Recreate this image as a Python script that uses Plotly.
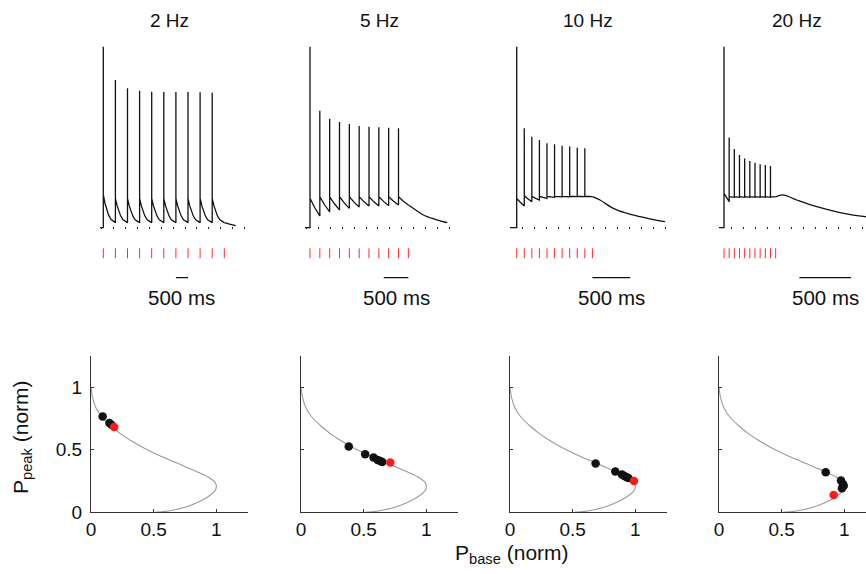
import plotly.graph_objects as go

W, H = 866, 574
FONT = "Liberation Sans, Arial, Helvetica, sans-serif"

# ---------------------------------------------------------------- data
freqs = [2, 5, 10, 20]
titles = ["2 Hz", "5 Hz", "10 Hz", "20 Hz"]
n_stim = 11

# membrane response, normalised (0 = rest, 1 = first spike peak)
pre_ms = [-136, -102, -88, -48]

peaks_2hz = [1.0, 0.816, 0.770, 0.757, 0.751, 0.750, 0.750, 0.750, 0.748, 0.746]
posts_2hz = [0.181, 0.162, 0.162, 0.162, 0.162, 0.162, 0.162, 0.162, 0.162, 0.162]
troughs_2hz = [0.0, 0.028, 0.028, 0.028, 0.028, 0.028, 0.028, 0.028, 0.028, 0.028, 0.028]
decay_f_2hz = [0, 0.14, 0.29, 0.43, 0.63, 0.86, 1.0]
decay_v_2hz = [0, 0.30, 0.54, 0.72, 0.88, 0.96, 1.0]
tail_t_2hz = [5250, 5470]
tail_v_2hz = [0.018, 0.011]

peaks_5hz = [1.0, 0.646, 0.602, 0.584, 0.573, 0.562, 0.558, 0.555, 0.552, 0.549]
posts_5hz = [0.162, 0.171, 0.171, 0.171, 0.171, 0.171, 0.171, 0.171, 0.171, 0.171]
troughs_5hz = [0.0, 0.065, 0.088, 0.098, 0.107, 0.114, 0.120, 0.120, 0.122, 0.125, 0.125]
decay_f_5hz = [0, 0.5, 1.0]
decay_v_5hz = [0, 0.55, 1.0]
tail_t_5hz = [2150, 2305, 2450, 2577, 2792]
tail_v_5hz = [0.098, 0.070, 0.055, 0.043, 0.028]

peaks_10hz = [1.0, 0.549, 0.503, 0.485, 0.466, 0.461, 0.453, 0.448, 0.442, 0.439]
posts_10hz = [0.162, 0.177, 0.173, 0.173, 0.173, 0.173, 0.173, 0.173, 0.173, 0.173]
troughs_10hz = [0.0, 0.120, 0.144, 0.153, 0.162, 0.168, 0.170, 0.171, 0.172, 0.172, 0.172]
decay_f_10hz = [0, 0.5, 1.0]
decay_v_10hz = [0, 0.55, 1.0]
tail_t_10hz = [1100, 1276, 1453, 1629, 1871, 1960]
tail_v_10hz = [0.153, 0.107, 0.080, 0.061, 0.039, 0.034]

peaks_20hz = [1.0, 0.499, 0.435, 0.402, 0.383, 0.368, 0.359, 0.350, 0.346, 0.341]
posts_20hz = [0.190, 0.171, 0.171, 0.171, 0.171, 0.171, 0.171, 0.171, 0.171, 0.171]
troughs_20hz = [0.0, 0.144, 0.168, 0.168, 0.168, 0.168, 0.168, 0.168, 0.168, 0.168, 0.170]
decay_f_20hz = [0, 1.0]
decay_v_20hz = [0, 1.0]
tail_t_20hz = [570, 704, 898, 1091, 1252, 1369, 1450]
tail_v_20hz = [0.181, 0.153, 0.116, 0.088, 0.070, 0.061, 0.057]

# 500 ms scale bar start (ms)
bar_start = [3000, 1500, 1000, 730]
bar_len = 500

# phase-plane curve (P_base, P_peak)
curve_x = [0.0, 0.012, 0.040, 0.090, 0.160, 0.240, 0.320, 0.410, 0.510, 0.600, 0.700,
           0.790, 0.870, 0.940, 0.985, 1.000, 0.990, 0.955, 0.900, 0.830, 0.750, 0.660,
           0.580, 0.510]
curve_y = [1.0, 0.920, 0.835, 0.758, 0.690, 0.625, 0.572, 0.521, 0.471, 0.430, 0.388,
           0.349, 0.314, 0.279, 0.245, 0.210, 0.175, 0.140, 0.105, 0.070, 0.040, 0.018,
           0.005, 0.0]

# trajectory points (black) and final point (red)
pb_2hz = [0.093, 0.147, 0.163]
pp_2hz = [0.767, 0.714, 0.700]
end_2hz = (0.185, 0.682)

pb_5hz = [0.381, 0.512, 0.579, 0.611, 0.632, 0.648]
pp_5hz = [0.526, 0.465, 0.438, 0.419, 0.411, 0.403]
end_5hz = (0.712, 0.398)

pb_10hz = [0.683, 0.840, 0.893, 0.912, 0.928, 0.944]
pp_10hz = [0.390, 0.326, 0.302, 0.291, 0.283, 0.275]
end_10hz = (0.989, 0.251)

pb_20hz = [0.851, 0.973, 0.989, 0.995, 0.981]
pp_20hz = [0.321, 0.254, 0.227, 0.213, 0.192]
end_20hz = (0.915, 0.139)

tick_vals = [0, 0.5, 1]
tick_text = ["0", "0.5", "1"]

panels = [
    (peaks_2hz, posts_2hz, troughs_2hz, decay_f_2hz, decay_v_2hz, tail_t_2hz, tail_v_2hz,
     pb_2hz, pp_2hz, end_2hz),
    (peaks_5hz, posts_5hz, troughs_5hz, decay_f_5hz, decay_v_5hz, tail_t_5hz, tail_v_5hz,
     pb_5hz, pp_5hz, end_5hz),
    (peaks_10hz, posts_10hz, troughs_10hz, decay_f_10hz, decay_v_10hz, tail_t_10hz, tail_v_10hz,
     pb_10hz, pp_10hz, end_10hz),
    (peaks_20hz, posts_20hz, troughs_20hz, decay_f_20hz, decay_v_20hz, tail_t_20hz, tail_v_20hz,
     pb_20hz, pp_20hz, end_20hz),
]

# ---------------------------------------------------------------- layout geometry (pixels)
panel_left = [91, 301, 510, 719]
panel_w = 156.7
onset_px = [103.3, 310.0, 516.7, 724.0]
px_per_ms = [0.0242, 0.04917, 0.0757, 0.1033]
first_dot_px = [101.7, 306.5, 510.4, 719.8]
dot_step_px = 11.9
rest_px = 227.7
trace_scale_px = 181.0
top_band = (35, 315)
bot_band = (356.0, 512.3)


def px_x(p):
    return p / W


def px_y(p):
    return 1 - p / H


def v_at(py):
    return (rest_px - py) / trace_scale_px


def build_trace(freq, pre, peaks, posts, troughs, dec_f, dec_v):
    isi = 1000.0 / freq
    t = [pre, 0.0]
    v = [0.0, troughs[0]]
    for i in range(len(peaks)):
        ti = i * isi
        t += [ti, ti]
        v += [peaks[i], posts[i]]
        for f, p in zip(dec_f[1:], dec_v[1:]):
            t.append(ti + f * isi)
            v.append(posts[i] + p * (troughs[i + 1] - posts[i]))
    return t, v


fig = go.Figure()
layout = {}
annotations = []

for k in range(4):
    (peaks, posts, troughs, dec_f, dec_v, tail_t, tail_v, pb, pp, end) = panels[k]
    freq = freqs[k]
    isi = 1000.0 / freq
    L = panel_left[k]
    R = min(L + panel_w, W)

    # ---------------- top: voltage trace
    xt, yt = f"x{k + 1}", f"y{k + 1}"
    x_lo = (L - onset_px[k]) / px_per_ms[k]
    x_hi = (R - onset_px[k]) / px_per_ms[k]
    y_lo = v_at(top_band[1])
    y_hi = v_at(top_band[0])

    t, v = build_trace(freq, pre_ms[k], peaks, posts, troughs, dec_f, dec_v)
    fig.add_trace(go.Scatter(x=t, y=v, mode="lines", xaxis=xt, yaxis=yt,
                             line=dict(color="#111111", width=1.3),
                             hoverinfo="skip", showlegend=False))
    fig.add_trace(go.Scatter(x=[len(peaks) * isi] + tail_t, y=[troughs[-1]] + tail_v,
                             mode="lines", xaxis=xt, yaxis=yt,
                             line=dict(color="#111111", width=1.3, shape="spline"),
                             hoverinfo="skip", showlegend=False))

    # stimulus ticks
    sx, sy = [], []
    for j in range(n_stim):
        ts = j * isi
        sx += [ts, ts, None]
        sy += [v_at(248.3), v_at(258.3), None]
    fig.add_trace(go.Scatter(x=sx, y=sy, mode="lines", xaxis=xt, yaxis=yt,
                             line=dict(color="#ff2a2a", width=1),
                             hoverinfo="skip", showlegend=False))

    # scale bar
    fig.add_trace(go.Scatter(x=[bar_start[k], bar_start[k] + bar_len],
                             y=[v_at(277.7), v_at(277.7)], mode="lines",
                             xaxis=xt, yaxis=yt,
                             line=dict(color="#111111", width=1.3),
                             hoverinfo="skip", showlegend=False))
    annotations.append(dict(x=bar_start[k] + bar_len / 2, y=v_at(297), xref=xt, yref=yt,
                            text="500 ms", showarrow=False,
                            font=dict(family=FONT, size=20.5, color="#111111"),
                            xanchor="center", yanchor="middle"))
    annotations.append(dict(x=px_x(L + panel_w / 2), y=px_y(20), xref="paper", yref="paper",
                            text=titles[k], showarrow=False,
                            font=dict(family=FONT, size=19, color="#111111"),
                            xanchor="center", yanchor="middle"))

    sfx = "" if k == 0 else str(k + 1)
    layout["xaxis" + sfx] = dict(
        domain=[px_x(L), px_x(R)], range=[x_lo, x_hi], anchor="free",
        position=px_y(rest_px + 1.5), automargin=False,
        showline=False, showgrid=False, zeroline=False, showticklabels=False,
        ticks="inside", ticklen=2, tickwidth=1, tickcolor="#222222",
        tickmode="linear", tick0=(first_dot_px[k] - onset_px[k]) / px_per_ms[k],
        dtick=dot_step_px / px_per_ms[k])
    layout["yaxis" + sfx] = dict(
        domain=[px_y(top_band[1]), px_y(top_band[0])], range=[y_lo, y_hi],
        anchor=xt, visible=False, automargin=False)

    # ---------------- bottom: phase plane
    xb, yb = f"x{k + 5}", f"y{k + 5}"
    unit_px = panel_w / 1.25
    fig.add_trace(go.Scatter(x=curve_x, y=curve_y, mode="lines", xaxis=xb, yaxis=yb,
                             line=dict(color="#9a9a9a", width=1.1, shape="spline",
                                       smoothing=0.8),
                             hoverinfo="skip", showlegend=False))
    fig.add_trace(go.Scatter(x=pb, y=pp, mode="markers", xaxis=xb, yaxis=yb,
                             marker=dict(color="#111111", size=8.5, line=dict(width=0)),
                             hoverinfo="skip", showlegend=False))
    fig.add_trace(go.Scatter(x=[end[0]], y=[end[1]], mode="markers", xaxis=xb, yaxis=yb,
                             marker=dict(color="#ff1a1a", size=8.5, line=dict(width=0)),
                             hoverinfo="skip", showlegend=False))

    bsfx = str(k + 5)
    layout["xaxis" + bsfx] = dict(
        domain=[px_x(L), px_x(R)], range=[0, (R - L) / unit_px], anchor=yb,
        automargin=False,
        showline=True, linecolor="#333333", linewidth=1, mirror=False,
        showgrid=False, zeroline=False,
        ticks="inside", ticklen=3, tickcolor="#333333",
        tickvals=tick_vals, ticktext=tick_text,
        tickfont=dict(family=FONT, size=19, color="#111111"))
    layout["yaxis" + bsfx] = dict(
        domain=[px_y(bot_band[1]), px_y(bot_band[0])], range=[0, 1.25], anchor=xb,
        automargin=False,
        showline=True, linecolor="#333333", linewidth=1,
        showgrid=False, zeroline=False,
        ticks="inside", ticklen=3, tickcolor="#333333",
        tickvals=tick_vals, ticktext=tick_text, showticklabels=(k == 0),
        ticklabelstandoff=4,
        tickfont=dict(family=FONT, size=19, color="#111111"))

# axis titles
annotations.append(dict(x=px_x(22), y=px_y(437), xref="paper", yref="paper",
                        text="P<sub>peak</sub> (norm)", textangle=-90, showarrow=False,
                        font=dict(family=FONT, size=21, color="#111111"),
                        xanchor="center", yanchor="middle"))
annotations.append(dict(x=px_x(512), y=px_y(554), xref="paper", yref="paper",
                        text="P<sub>base</sub> (norm)", showarrow=False,
                        font=dict(family=FONT, size=21, color="#111111"),
                        xanchor="center", yanchor="middle"))

fig.update_layout(
    template="none",
    width=W, height=H,
    margin=dict(l=0, r=0, t=0, b=0, pad=0),
    paper_bgcolor="white", plot_bgcolor="white",
    showlegend=False,
    annotations=annotations,
    **layout,
)

fig.write_html("out.html")
